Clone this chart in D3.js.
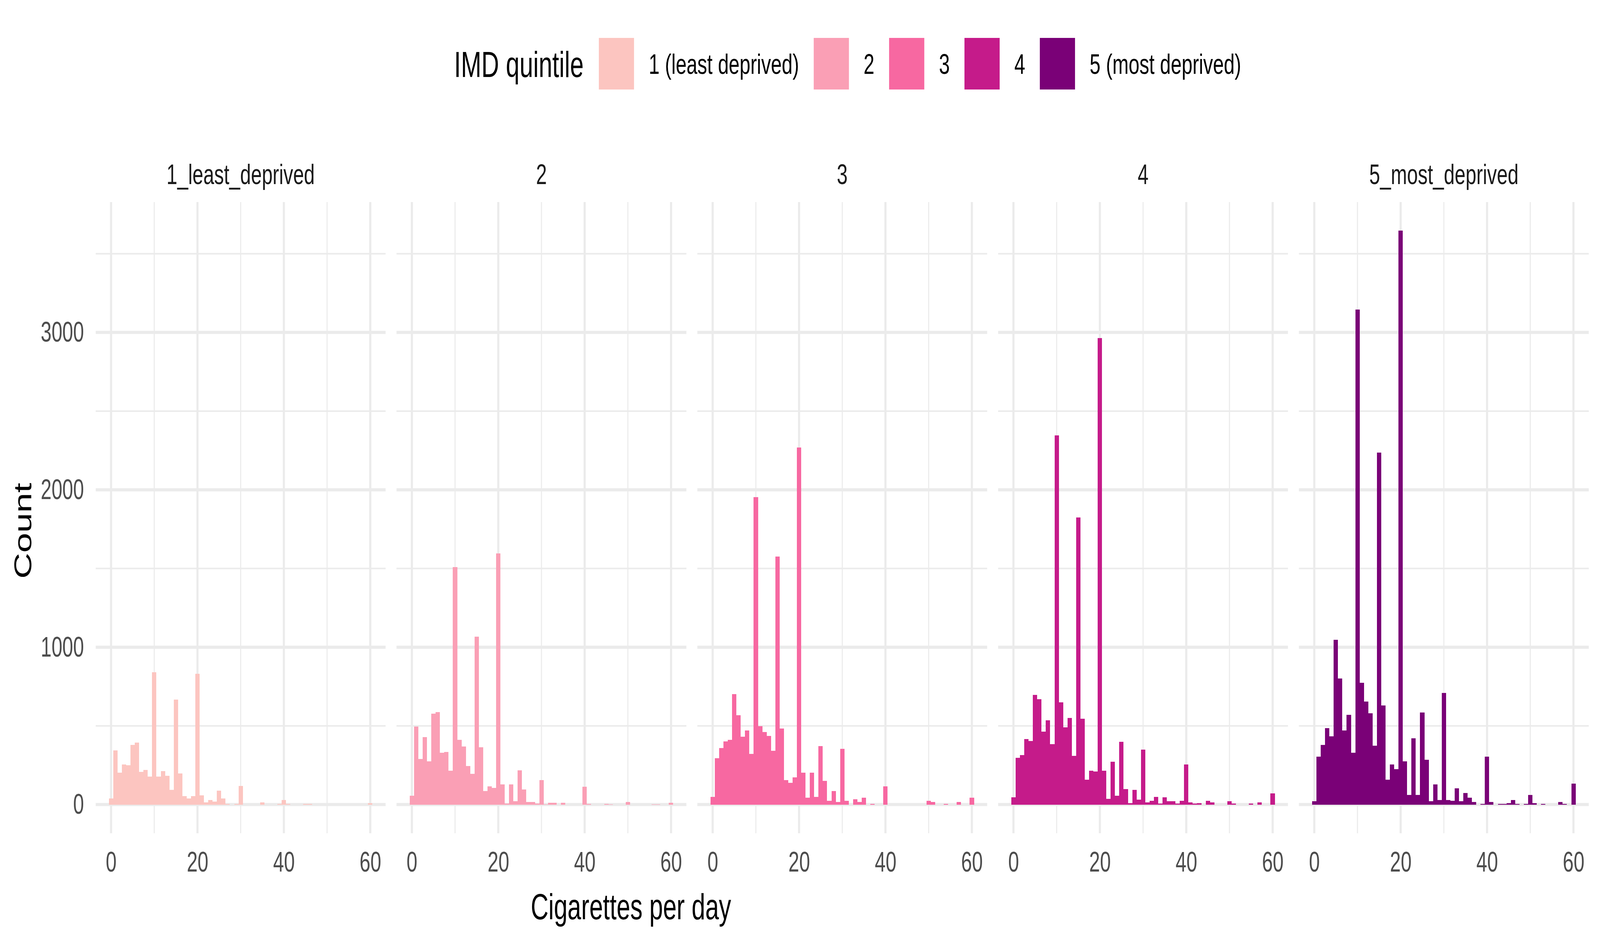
<!DOCTYPE html>
<html>
<head>
<meta charset="utf-8">
<script src="https://cdnjs.cloudflare.com/ajax/libs/d3/7.8.5/d3.min.js"></script>
<style>
  html, body { margin: 0; padding: 0; background: #fff; width: 100%; height: 100%; overflow: hidden; }
  #chart { width: 100vw; height: 100vh; }
  svg { display: block; }
  text { font-family: "Liberation Sans", Arial, sans-serif; }
</style>
</head>
<body>
<div id="chart"></div>
<script>
// chart size (drawing units, stretched to the window)
const width = 6000;
const height = 2400;

// bins: cigarettes per day, width 1 centred on each integer
const cigs = d3.range(0, 61);

const stripLabels = ["1_least_deprived", "2", "3", "4", "5_most_deprived"];
const legendLabels = ["1 (least deprived)", "2", "3", "4", "5 (most deprived)"];
const colours = ["#FCC5C0", "#FA9FB5", "#F768A1", "#C51B8A", "#7A0177"];

// counts per bin
const q1 = [38,344,202,254,249,378,394,207,220,177,
            840,177,212,182,93,668,197,53,38,53,
            830,58,13,28,19,88,38,3,0,3,
            118,0,0,0,0,13,0,0,0,3,
            28,3,0,0,0,3,3,0,0,0,
            0,0,0,0,0,0,0,0,0,0,
            9];
const q2 = [56,496,289,429,274,577,587,329,335,214,
            1510,410,368,244,196,1067,364,86,116,107,
            1596,128,6,128,22,218,97,16,16,6,
            156,2,11,11,0,11,0,0,0,0,
            112,3,0,0,0,3,1,0,0,0,
            16,0,0,0,0,0,2,2,0,0,
            11];
const q3 = [49,294,358,402,412,702,568,431,471,323,
            1954,499,462,436,342,1575,483,156,137,172,
            2269,202,43,202,49,372,151,23,87,16,
            353,23,0,33,16,43,0,5,0,0,
            116,0,0,0,0,0,0,0,0,0,
            23,17,0,0,5,0,0,16,0,0,
            43];
const q4 = [45,296,314,415,405,698,669,464,536,384,
            2345,649,491,550,310,1825,546,158,214,209,
            2965,214,37,271,55,398,99,10,94,31,
            349,14,25,49,6,45,21,21,6,25,
            255,14,6,10,0,25,14,0,0,0,
            21,6,0,0,0,6,0,14,0,0,
            70];
const q5 = [21,305,378,485,433,1046,801,470,569,329,
            3145,775,655,579,373,2236,629,159,256,224,
            3646,274,60,420,60,585,284,21,128,29,
            710,29,23,104,21,73,44,16,0,3,
            305,16,0,3,3,10,29,3,0,5,
            60,10,0,5,0,0,0,16,5,0,
            133];
const counts = [q1, q2, q3, q4, q5];

const xTicks = [0, 20, 40, 60];
const xMinor = [10, 30, 50];
const yTicks = [0, 1000, 2000, 3000];
const yMinor = [500, 1500, 2500, 3500];

// layout
const panelLeft = 359;
const panelW = 1087;
const panelGap = 41;
const panelTop = 517;
const panelBottom = 2132;

const x = d3.scaleLinear().domain([-3.55, 63.55]).range([0, panelW]);
const yMax = d3.max(counts, c => d3.max(c));
const y = d3.scaleLinear()
  .domain([-0.05 * yMax, 1.05 * yMax])
  .range([panelBottom, panelTop]);

// fill the whole window with the 6000x2400 layout
const svg = d3.select("#chart").append("svg")
  .attr("viewBox", `0 0 ${width} ${height}`)
  .attr("preserveAspectRatio", "none")
  .attr("width", "100%")
  .attr("height", "100%")
  .style("background", "#fff");

counts.forEach(function (series, i) {
  const g = svg.append("g")
    .attr("transform", `translate(${panelLeft + i * (panelW + panelGap)},0)`);

  // minor grid
  g.selectAll(".ymin").data(yMinor).enter().append("line")
    .attr("x1", 0).attr("x2", panelW)
    .attr("y1", d => y(d)).attr("y2", d => y(d))
    .attr("stroke", "#EBEBEB").attr("stroke-width", 4);
  g.selectAll(".xmin").data(xMinor).enter().append("line")
    .attr("x1", d => x(d)).attr("x2", d => x(d))
    .attr("y1", panelTop).attr("y2", panelBottom)
    .attr("stroke", "#EBEBEB").attr("stroke-width", 4);
  // major grid
  g.selectAll(".ymaj").data(yTicks).enter().append("line")
    .attr("x1", 0).attr("x2", panelW)
    .attr("y1", d => y(d)).attr("y2", d => y(d))
    .attr("stroke", "#EBEBEB").attr("stroke-width", 8);
  g.selectAll(".xmaj").data(xTicks).enter().append("line")
    .attr("x1", d => x(d)).attr("x2", d => x(d))
    .attr("y1", panelTop).attr("y2", panelBottom)
    .attr("stroke", "#EBEBEB").attr("stroke-width", 8);

  // bars (crisp so neighbouring bins show no seams)
  g.append("g")
    .attr("shape-rendering", "crispEdges")
    .selectAll("rect").data(series).enter().append("rect")
    .attr("x", (d, j) => x(cigs[j] - 0.5))
    .attr("width", (d, j) => x(cigs[j] + 0.5) - x(cigs[j] - 0.5))
    .attr("y", d => y(d))
    .attr("height", d => y(0) - y(d))
    .attr("fill", colours[i]);

  // strip label
  g.append("text")
    .attr("x", panelW / 2)
    .attr("y", 471)
    .attr("text-anchor", "middle")
    .attr("font-size", 73)
    .attr("fill", "#1A1A1A")
    .text(stripLabels[i]);

  // x axis labels
  const xAxis = g.append("g")
    .attr("transform", `translate(0,${panelBottom})`)
    .call(d3.axisBottom(x).tickValues(xTicks).tickFormat(d3.format("d"))
      .tickSize(0).tickPadding(46));
  xAxis.select(".domain").remove();
  xAxis.selectAll("text")
    .attr("font-size", 73)
    .attr("font-family", "Liberation Sans, Arial, sans-serif")
    .attr("fill", "#4D4D4D");

  if (i === 0) {
    const yAxis = g.append("g")
      .call(d3.axisLeft(y).tickValues(yTicks).tickFormat(d3.format("d"))
        .tickSize(0).tickPadding(44));
    yAxis.select(".domain").remove();
    yAxis.selectAll("text")
      .attr("font-size", 73)
      .attr("font-family", "Liberation Sans, Arial, sans-serif")
      .attr("fill", "#4D4D4D");
  }
});

// axis titles
svg.append("text")
  .attr("x", 2366)
  .attr("y", 2352)
  .attr("text-anchor", "middle")
  .attr("font-size", 92)
  .attr("fill", "#000")
  .text("Cigarettes per day");

svg.append("text")
  .attr("transform", "translate(117,1358) rotate(-90)")
  .attr("text-anchor", "middle")
  .attr("font-size", 92)
  .attr("fill", "#000")
  .text("Count");

// legend
const legend = svg.append("g");
const keySize = 132;
const keyTop = 97;
const title = legend.append("text")
  .attr("x", 1703)
  .attr("y", 197)
  .attr("font-size", 92)
  .attr("fill", "#000")
  .text("IMD quintile");

let cursor = 1703 + title.node().getComputedTextLength() + 57;
legendLabels.forEach(function (lab, i) {
  legend.append("rect")
    .attr("x", cursor).attr("y", keyTop)
    .attr("width", keySize).attr("height", keySize)
    .attr("fill", colours[i]);
  const t = legend.append("text")
    .attr("x", cursor + keySize + 55)
    .attr("y", 189)
    .attr("font-size", 73)
    .attr("fill", "#000")
    .text(lab);
  cursor = cursor + keySize + 55 + t.node().getComputedTextLength() + 55;
});
</script>
</body>
</html>
